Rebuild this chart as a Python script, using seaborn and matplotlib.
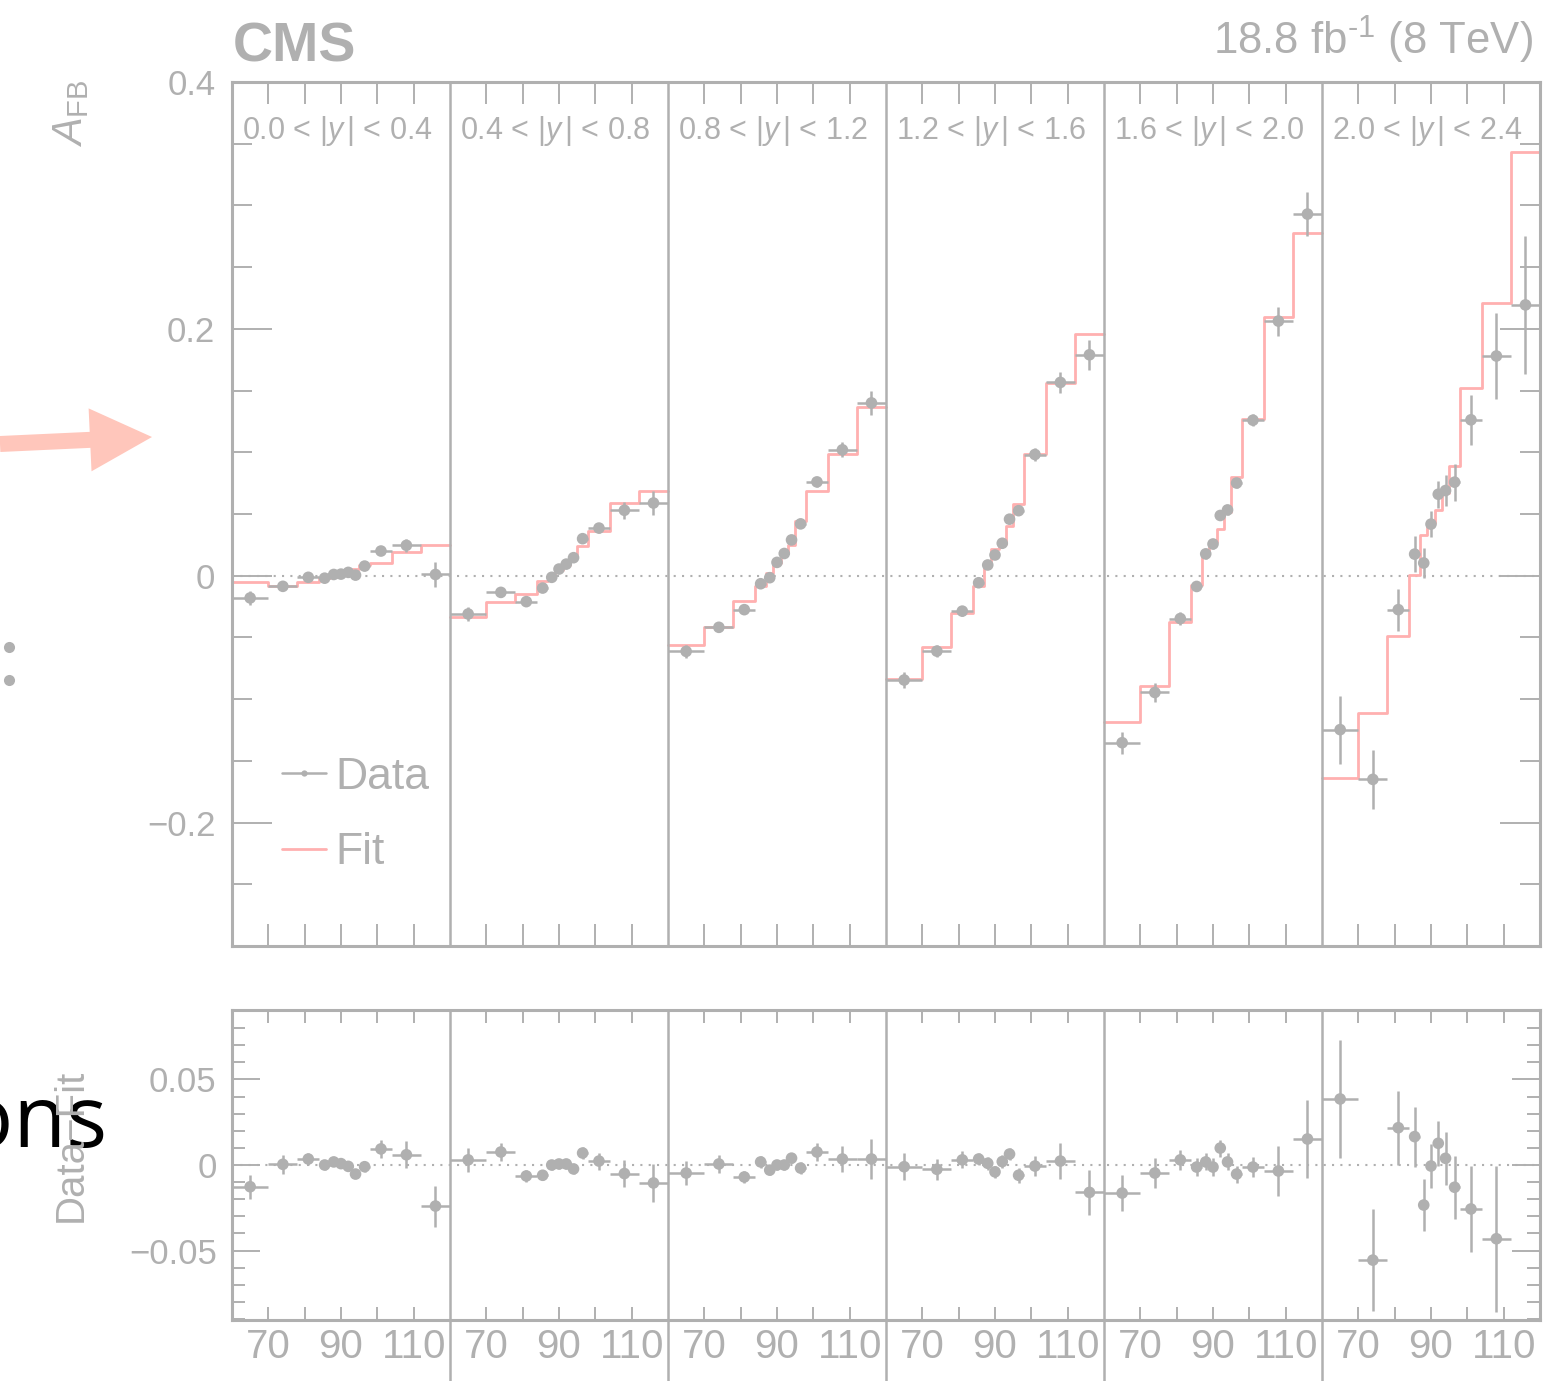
import numpy as np
import pandas as pd
import matplotlib
matplotlib.use("Agg")
import matplotlib.pyplot as plt
import seaborn as sns
from matplotlib.patches import FancyArrow
from matplotlib.lines import Line2D
from matplotlib.transforms import IdentityTransform
from matplotlib.ticker import FixedLocator, MultipleLocator, FuncFormatter

# ---------------- data ----------------
mass_edges = [60, 70, 78, 84, 87, 89, 91, 93, 95, 98, 104, 112, 120]
rapidity_labels = ["0.0 < |$y\\,$| < 0.4", "0.4 < |$y\\,$| < 0.8", "0.8 < |$y\\,$| < 1.2",
                   "1.2 < |$y\\,$| < 1.6", "1.6 < |$y\\,$| < 2.0", "2.0 < |$y\\,$| < 2.4"]
x_tick_labels = ["70", "90", "110"]

data_y1 = [-0.018, -0.0086, -0.0013, -0.002, 0.001, 0.0013, 0.0027, 0.0005, 0.0078, 0.020, 0.0246, 0.001]
data_y2 = [-0.031, -0.0135, -0.021, -0.010, -0.0013, 0.0054, 0.0094, 0.0146, 0.030, 0.0386, 0.053, 0.0589]
data_y3 = [-0.0613, -0.0418, -0.0275, -0.0065, -0.0016, 0.0108, 0.018, 0.029, 0.042, 0.076, 0.102, 0.140]
data_y4 = [-0.0845, -0.0611, -0.0287, -0.0057, 0.0087, 0.0168, 0.0263, 0.0458, 0.0527, 0.0982, 0.1566, 0.179]
data_y5 = [-0.1353, -0.0946, -0.0347, -0.0087, 0.0177, 0.0257, 0.0488, 0.0533, 0.0751, 0.126, 0.2063, 0.293]
data_y6 = [-0.1247, -0.165, -0.0275, 0.0175, 0.0103, 0.0418, 0.066, 0.069, 0.0758, 0.1263, 0.178, 0.2194]

err_y1 = [0.0057, 0.003, 0.0025, 0.0025, 0.0022, 0.002, 0.002, 0.002, 0.0025, 0.003, 0.005, 0.010]
err_y2 = [0.006, 0.004, 0.003, 0.003, 0.0025, 0.0025, 0.0025, 0.0025, 0.003, 0.004, 0.0067, 0.010]
err_y3 = [0.0055, 0.004, 0.003, 0.003, 0.0025, 0.0025, 0.0025, 0.0025, 0.003, 0.004, 0.006, 0.010]
err_y4 = [0.0065, 0.005, 0.004, 0.003, 0.003, 0.003, 0.003, 0.003, 0.0035, 0.005, 0.0085, 0.012]
err_y5 = [0.009, 0.0075, 0.005, 0.004, 0.004, 0.004, 0.004, 0.004, 0.004, 0.005, 0.0117, 0.018]
err_y6 = [0.0275, 0.024, 0.017, 0.0146, 0.012, 0.0104, 0.011, 0.0125, 0.015, 0.020, 0.0347, 0.056]

fit_y1 = [-0.0054, -0.0086, -0.005, -0.002, -0.0008, 0.0005, 0.0035, 0.0058, 0.0088, 0.0106, 0.019, 0.025]
fit_y2 = [-0.0335, -0.0213, -0.0151, -0.004, -0.0013, 0.0048, 0.0088, 0.017, 0.0237, 0.0364, 0.0589, 0.0688]
fit_y3 = [-0.0564, -0.0418, -0.0208, -0.008, 0.002, 0.0105, 0.0185, 0.025, 0.044, 0.0688, 0.0988, 0.137]
fit_y4 = [-0.0836, -0.0575, -0.0303, -0.0081, 0.0077, 0.0215, 0.026, 0.040, 0.058, 0.0985, 0.156, 0.1955]
fit_y5 = [-0.1189, -0.0896, -0.0377, -0.0078, 0.018, 0.027, 0.0377, 0.052, 0.0796, 0.1266, 0.2099, 0.2773]
fit_y6 = [-0.1636, -0.111, -0.049, 0.0008, 0.0332, 0.0427, 0.0534, 0.067, 0.0885, 0.152, 0.2208, 0.343]

resid_y1 = [-0.0127, 0.0004, 0.0035, 0.0, 0.0018, 0.0008, -0.0008, -0.0053, -0.001, 0.0094, 0.006, -0.024]
resid_y2 = [0.003, 0.0076, -0.0064, -0.006, 0.0, 0.0006, 0.0006, -0.0023, 0.007, 0.0023, -0.005, -0.0105]
resid_y3 = [-0.0047, 0.0006, -0.007, 0.0018, -0.003, 0.0, 0.0, 0.004, -0.0018, 0.0076, 0.0035, 0.0035]
resid_y4 = [-0.001, -0.0025, 0.003, 0.0035, 0.001, -0.004, 0.002, 0.0064, -0.006, -0.0006, 0.0023, -0.016]
resid_y5 = [-0.0164, -0.0047, 0.003, -0.0012, 0.0018, -0.0012, 0.0099, 0.0018, -0.0053, -0.0012, -0.0035, 0.0152]
resid_y6 = [0.0386, -0.0556, 0.0218, 0.0166, -0.0234, -0.0006, 0.0127, 0.0039, -0.013, -0.0257, -0.0431, np.nan]

rerr_y1 = [0.007, 0.0054, 0.0037, 0.003, 0.0025, 0.0025, 0.0025, 0.0025, 0.003, 0.0054, 0.0078, 0.012]
rerr_y2 = [0.007, 0.005, 0.0035, 0.003, 0.003, 0.003, 0.003, 0.003, 0.0035, 0.005, 0.008, 0.011]
rerr_y3 = [0.0068, 0.005, 0.0037, 0.0035, 0.003, 0.003, 0.003, 0.003, 0.0037, 0.005, 0.0075, 0.0117]
rerr_y4 = [0.008, 0.006, 0.005, 0.0037, 0.0037, 0.0037, 0.0037, 0.0037, 0.0043, 0.006, 0.0105, 0.013]
rerr_y5 = [0.0105, 0.009, 0.006, 0.005, 0.005, 0.005, 0.005, 0.005, 0.005, 0.006, 0.0144, 0.023]
rerr_y6 = [0.0343, 0.0296, 0.0216, 0.0175, 0.0151, 0.0127, 0.013, 0.0154, 0.0184, 0.0249, 0.0427, np.nan]

data_all = [data_y1, data_y2, data_y3, data_y4, data_y5, data_y6]
err_all = [err_y1, err_y2, err_y3, err_y4, err_y5, err_y6]
fit_all = [fit_y1, fit_y2, fit_y3, fit_y4, fit_y5, fit_y6]
resid_all = [resid_y1, resid_y2, resid_y3, resid_y4, resid_y5, resid_y6]
rerr_all = [rerr_y1, rerr_y2, rerr_y3, rerr_y4, rerr_y5, rerr_y6]

# ---------------- tables ----------------
MLO = mass_edges[0]
SPAN = mass_edges[-1] - mass_edges[0]
rows = []
for p in range(6):
    for i in range(len(mass_edges) - 1):
        lo, hi = mass_edges[i], mass_edges[i + 1]
        rows.append(dict(panel=p, x=p * SPAN + (lo + hi) / 2 - MLO, xerr=(hi - lo) / 2,
                         afb=data_all[p][i], err=err_all[p][i],
                         resid=resid_all[p][i], rerr=rerr_all[p][i]))
df = pd.DataFrame(rows)

frows = []
for p in range(6):
    vals = list(fit_all[p]) + [fit_all[p][-1]]
    for e, v in zip(mass_edges, vals):
        frows.append(dict(panel=p, x=p * SPAN + e - MLO, fit=v))
fdf = pd.DataFrame(frows)

# ---------------- style ----------------
sns.set_style("ticks")
plt.rcParams["font.family"] = ["Liberation Sans", "DejaVu Sans"]
plt.rcParams["mathtext.fontset"] = "custom"
plt.rcParams["mathtext.rm"] = "Liberation Sans"
plt.rcParams["mathtext.it"] = "Liberation Sans:italic"
plt.rcParams["mathtext.bf"] = "Liberation Sans:bold"

GREY = "#b0b0b0"
PINK = "#ffb0b0"
ARROW = "#ffc6bb"

W, H = 1563, 1381
fig = plt.figure(figsize=(W / 100, H / 100), dpi=100)
fx = lambda px: px / W
fy = lambda py: 1 - py / H

ax = fig.add_axes([fx(232), fy(946), fx(1540) - fx(232), fy(82) - fy(946)])
axr = fig.add_axes([fx(232), fy(1320), fx(1540) - fx(232), fy(1010) - fy(1320)])

# main panel
ax.axhline(0, color=GREY, lw=1.5, ls=(0, (1, 3)), zorder=1)
sns.lineplot(data=fdf, x="x", y="fit", units="panel", estimator=None, sort=False,
             drawstyle="steps-post", color=PINK, lw=2.0, ax=ax, legend=False, zorder=2)
ax.errorbar(df["x"], df["afb"], xerr=df["xerr"], yerr=df["err"], fmt="none",
            ecolor=GREY, elinewidth=1.8, capsize=0, zorder=3)
sns.scatterplot(data=df, x="x", y="afb", color=GREY, s=70, edgecolor="none",
                ax=ax, zorder=4, legend=False)

# ratio panel
axr.axhline(0, color=GREY, lw=1.5, ls=(0, (1, 3)), zorder=1)
axr.errorbar(df["x"], df["resid"], xerr=df["xerr"], yerr=df["rerr"], fmt="none",
             ecolor=GREY, elinewidth=1.8, capsize=0, zorder=3)
sns.scatterplot(data=df, x="x", y="resid", color=GREY, s=70, edgecolor="none",
                ax=axr, zorder=4, legend=False)

for a in (ax, axr):
    a.set_xlim(0, 6 * SPAN)
    a.set_xlabel("")
    a.set_ylabel("")
    for s in a.spines.values():
        s.set_color(GREY)
        s.set_linewidth(2.2)
    for k in range(1, 6):
        if a is ax:
            a.axvline(k * SPAN, color=GREY, lw=1.8, zorder=5)
        else:
            a.axvline(k * SPAN, ymin=-0.2, ymax=1, color=GREY, lw=1.8, zorder=5, clip_on=False)

ax.set_ylim(-0.3, 0.4)
axr.set_ylim(-0.0906, 0.0906)

xt = [p * SPAN + d for p in range(6) for d in (10, 20, 30, 40, 50)]
label_pos = {10: x_tick_labels[0], 30: x_tick_labels[1], 50: x_tick_labels[2]}

for a in (ax, axr):
    a.xaxis.set_major_locator(FixedLocator(xt))

ax.tick_params(axis="x", which="major", direction="in", top=True, bottom=True,
               length=15.5, width=1.4, color=GREY, labelbottom=False)
axr.tick_params(axis="x", which="major", direction="in", top=True, bottom=True,
                length=9.5, width=1.4, color=GREY, labelsize=29, labelcolor=GREY, pad=6)
axr.xaxis.set_major_formatter(FuncFormatter(lambda v, pos: label_pos.get(int(round(v)) % SPAN, "")))

fmt_main = lambda v, pos: "0" if abs(v) < 1e-9 else ("%.1f" % v).replace("-", "\u2212")
fmt_ratio = lambda v, pos: "0" if abs(v) < 1e-9 else ("%.2f" % v).replace("-", "\u2212")

ax.yaxis.set_major_locator(FixedLocator([-0.2, 0.0, 0.2, 0.4]))
ax.yaxis.set_minor_locator(MultipleLocator(0.05))
ax.yaxis.set_major_formatter(FuncFormatter(fmt_main))
ax.tick_params(axis="y", which="major", direction="in", left=True, right=True,
               length=29, width=1.4, color=GREY, labelsize=25, labelcolor=GREY, pad=12)
ax.tick_params(axis="y", which="minor", direction="in", left=True, right=True,
               length=14.5, width=1.4, color=GREY)

axr.yaxis.set_major_locator(FixedLocator([-0.05, 0.0, 0.05]))
axr.yaxis.set_minor_locator(MultipleLocator(0.01))
axr.yaxis.set_major_formatter(FuncFormatter(fmt_ratio))
axr.tick_params(axis="y", which="major", direction="in", left=True, right=True,
                length=20, width=1.4, color=GREY, labelsize=25, labelcolor=GREY, pad=11)
axr.tick_params(axis="y", which="minor", direction="in", left=True, right=True,
                length=9.5, width=1.4, color=GREY)

# rapidity labels
for p, lab in enumerate(rapidity_labels):
    ax.text(p * SPAN + SPAN / 2 - 1, 0.360, lab, ha="center", va="center",
            fontsize=22, color=GREY, zorder=6)

# legend
handles = [Line2D([], [], color=GREY, lw=1.8, marker="o", markersize=4.5, markeredgewidth=0),
           Line2D([], [], color=PINK, lw=2.0)]
fig.legend(handles, ["Data", "Fit"], loc="center left",
           bbox_to_anchor=(fx(282), fy(815)), bbox_transform=fig.transFigure,
           frameon=False, fontsize=32, labelcolor=GREY, handlelength=1.0,
           handletextpad=0.2, labelspacing=0.78, borderpad=0, borderaxespad=0)

# titles / axis labels
fig.text(fx(233), fy(62), "CMS", fontsize=40, fontweight="bold", color=GREY,
         ha="left", va="baseline")
fig.text(fx(1533), fy(55), "18.8 fb$^{\\text{-1}}$ (8 TeV)", fontsize=31.5, color=GREY,
         ha="right", va="baseline")
fig.text(fx(71), fy(80), "$A_{\\rm FB}$", fontsize=30, color=GREY, rotation=90,
         ha="center", va="top")
fig.text(fx(71), fy(1145), "Data\u2212Fit", fontsize=29, color=GREY, rotation=90,
         ha="center", va="center", zorder=11)

# overlapping slide fragments
fig.text(fx(108), fy(1147), "tions", fontsize=62, color="black", ha="right",
         va="baseline", family=["Open Sans", "DejaVu Sans"], zorder=10)
fig.add_artist(Line2D([fx(9), fx(9)], [fy(647), fy(680)], transform=fig.transFigure,
                      ls="none", marker="o", markersize=8, color=GREY, markeredgewidth=0))
fig.add_artist(FancyArrow(0, H - 444, 152, 7, width=16, head_width=63, head_length=62,
                          length_includes_head=True, color=ARROW, lw=0,
                          transform=IdentityTransform()))

fig.savefig("out.png", dpi=100)
